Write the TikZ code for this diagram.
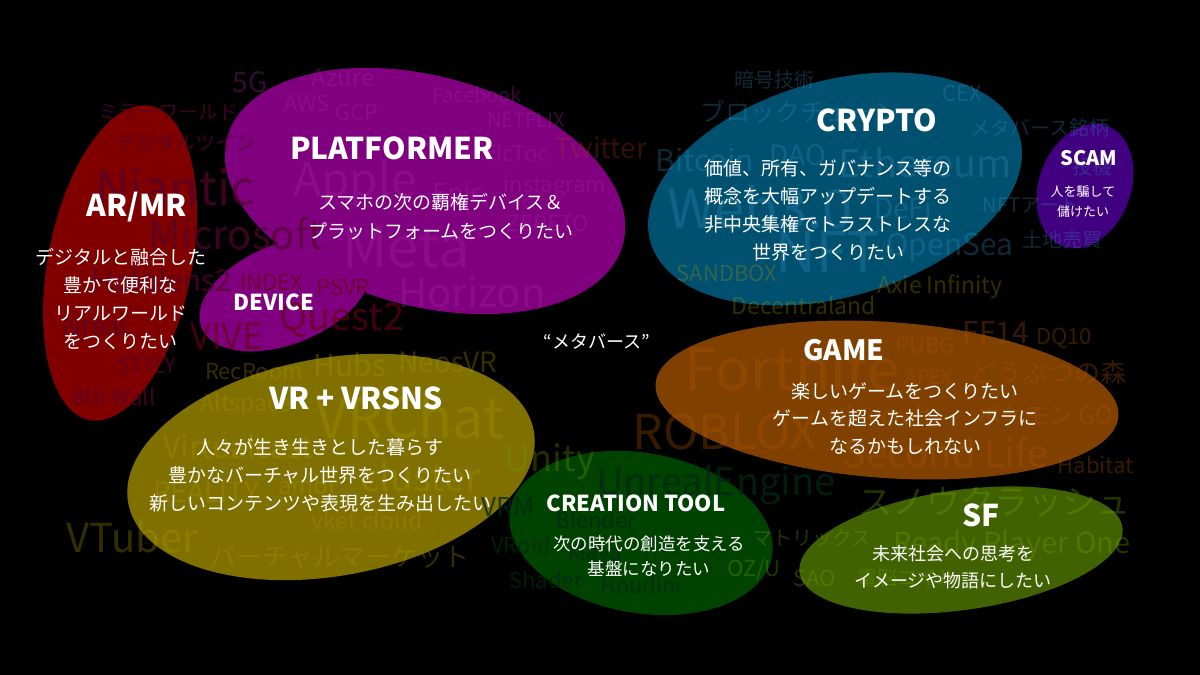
\documentclass[tikz,border=0pt]{standalone}
\usepackage{fontspec}
\setmainfont{Noto Sans CJK JP}
\newcommand{\wsize}[1]{\fontsize{#1}{#1}\selectfont}
\definecolor{armrcol}{RGB}{128,0,0}
\definecolor{platcol}{RGB}{128,0,128}
\definecolor{cryptocol}{RGB}{0,80,112}
\definecolor{scamcol}{RGB}{64,0,128}
\definecolor{vrcol}{RGB}{128,112,0}
\definecolor{gamecol}{RGB}{128,64,0}
\definecolor{toolcol}{RGB}{0,66,0}
\definecolor{sfcol}{RGB}{64,98,0}
\definecolor{armrword}{RGB}{85,5,45}
\definecolor{platword}{RGB}{170,40,170}
\definecolor{devword}{RGB}{100,0,20}
\definecolor{twword}{RGB}{170,50,30}
\definecolor{cryptoword}{RGB}{60,150,200}
\definecolor{vrword}{RGB}{170,155,0}
\definecolor{unityword}{RGB}{110,160,0}
\definecolor{toolword}{RGB}{0,40,20}
\definecolor{gameword}{RGB}{180,90,0}
\definecolor{sfword}{RGB}{120,170,0}

\begin{document}
\begin{tikzpicture}[x=1pt,y=-1pt,
    wd/.style={inner sep=0pt, text opacity=0.3},
    war/.style={wd, text=armrword, text opacity=0.7},
    wpf/.style={wd, text=platword},
    wdev/.style={wd, text=devword, text opacity=0.65},
    wtw/.style={wd, text=twword},
    wcr/.style={wd, text=cryptoword, text opacity=0.28},
    wvr/.style={wd, text=vrword},
    wun/.style={wd, text=unityword},
    wct/.style={wd, text=toolword, text opacity=0.75},
    wgm/.style={wd, text=gameword},
    wsf/.style={wd, text=sfword},
    title/.style={text=white, inner sep=0pt, font=\bfseries\wsize{#1}},
    desc/.style={text=white, inner sep=0pt, align=center, font=\fontsize{19}{28}\selectfont}]
    \useasboundingbox (0,0) rectangle (1200,675);
    \fill[black] (0,0) rectangle (1200,675);

    \fill[armrcol, rotate around={-11:(120,263)}] (120,263) ellipse [x radius=72, y radius=160];
    \fill[platcol, rotate around={-15:(425,191)}] (425,191) ellipse [x radius=205, y radius=115];
    \fill[platcol, rotate around={22:(285,294)}] (285,294) ellipse [x radius=90, y radius=50];
    \fill[cryptocol, rotate around={16:(835,189)}] (835,189) ellipse [x radius=192, y radius=108];
    \fill[scamcol, rotate around={-20:(1085,186)}] (1085,186) ellipse [x radius=46, y radius=64];
    \fill[vrcol, rotate around={10:(331,467)}] (331,467) ellipse [x radius=206, y radius=109];
    \fill[gamecol, rotate around={-4:(887,400)}] (887,400) ellipse [x radius=232, y radius=78];
    \fill[toolcol, rotate around={-10:(641,533)}] (641,533) ellipse [x radius=133, y radius=80];
    \fill[sfcol, rotate around={8:(961,550)}] (961,550) ellipse [x radius=163, y radius=60];

    \node[wpf, font=\wsize{28}] (fiveg) at (250,82) {5G};
    \node[wpf, font=\wsize{24}] (azure) at (343,78) {Azure};
    \node[wpf, font=\wsize{22}] (aws) at (307,103) {AWS};
    \node[wpf, font=\wsize{22}] (gcp) at (357,112) {GCP};
    \node[wpf, font=\wsize{20}] (facebook) at (477,95) {Facebook};
    \node[wpf, font=\wsize{20}] (netflix) at (526,120) {NETFLIX};
    \node[wpf, font=\wsize{22}] (tictoc) at (516,153) {TicToc};
    \node[wpf, font=\wsize{22}] (insta) at (555,187) {instagram};
    \node[wpf, font=\wsize{22}] (zepeto) at (548,223) {ZEPETO};
    \node[wpf, font=\wsize{26}] (epic) at (458,195) {Epic};
    \node[wpf, font=\wsize{46}] (apple) at (355,183) {Apple};
    \node[wpf, font=\wsize{56}] (meta) at (406,247) {Meta};
    \node[wpf, font=\wsize{40}] (horizon) at (472,292) {Horizon};
    \node[wtw, font=\wsize{28}] (twitter) at (601,148) {Twitter};

    \node[war, font=\wsize{20}] (mirror) at (168,112) {ミラーワールド};
    \node[war, font=\wsize{20}] (twin) at (186,143) {デジタルツイン};
    \node[war, font=\wsize{48}] (niantic) at (175,187) {Niantic};
    \node[war, font=\wsize{40}] (msoft) at (236,234) {Microsoft};
    \node[war, font=\wsize{30}] (hololens) at (162,280) {Hololens2};
    \node[war, font=\wsize{26}] (nreal) at (95,325) {Nreal};
    \node[war, font=\wsize{22}] (styly) at (147,365) {STYLY};
    \node[war, font=\wsize{22}] (eighth) at (114,397) {8th Wall};

    \node[wdev, font=\wsize{22}] (index) at (272,282) {INDEX};
    \node[wdev, font=\wsize{22}] (psvr) at (343,287) {PSVR};
    \node[wdev, font=\wsize{38}] (quest) at (342,320) {Quest2};
    \node[wdev, font=\wsize{36}] (vive) at (227,336) {VIVE};

    \node[wcr, font=\wsize{20}] (angou) at (774,80) {暗号技術};
    \node[wcr, font=\wsize{25}] (chain) at (800,112) {ブロックチェーン};
    \node[wcr, font=\wsize{30}] (bitcoin) at (705,160) {Bitcoin};
    \node[wcr, font=\wsize{28}] (dao) at (798,155) {DAO};
    \node[wcr, font=\wsize{38}] (eth) at (925,163) {Ethereum};
    \node[wcr, font=\wsize{54}] (web3) at (760,207) {Web3.0};
    \node[wcr, font=\wsize{28}] (defi) at (903,208) {DeFi};
    \node[wcr, font=\wsize{56}] (nft) at (828,252) {NFT};
    \node[wcr, font=\wsize{30}] (opensea) at (950,248) {OpenSea};
    \node[wcr, font=\wsize{22}] (cex) at (962,93) {CEX};
    \node[wcr, font=\wsize{20}] (meigara) at (1040,128) {メタバース銘柄};
    \node[wcr, font=\wsize{20}] (touki) at (1092,167) {投機};
    \node[wcr, font=\wsize{20}] (nftart) at (1031,205) {NFTアート};
    \node[wcr, font=\wsize{20}] (tochi) at (1062,240) {土地売買};

    \node[wvr, font=\wsize{22}] (sandbox) at (727,273) {SANDBOX};
    \node[wvr, font=\wsize{23}] (axie) at (940,287) {Axie Infinity};
    \node[wvr, font=\wsize{23}] (decentra) at (804,305) {Decentraland};
    \node[wvr, font=\wsize{22}] (recroom) at (254,372) {RecRoom};
    \node[wvr, font=\wsize{30}] (hubs) at (350,365) {Hubs};
    \node[wvr, font=\wsize{28}] (neos) at (448,362) {NeosVR};
    \node[wvr, font=\wsize{23}] (altspace) at (246,405) {Altspace};
    \node[wvr, font=\wsize{56}] (vrchat) at (410,417) {VRChat};
    \node[wvr, font=\wsize{30}] (vcast) at (238,447) {Virtualcast};
    \node[wvr, font=\wsize{38}] (cluster) at (420,477) {cluster};
    \node[wvr, font=\wsize{28}] (reality) at (206,492) {REALITY};
    \node[wvr, font=\wsize{24}] (ambr) at (308,485) {ambr};
    \node[wvr, font=\wsize{23}] (vket) at (367,520) {vket cloud};
    \node[wvr, font=\wsize{26}] (vmarket) at (340,557) {バーチャルマーケット};
    \node[wvr, font=\wsize{40}] (vtuber) at (132,537) {VTuber};
    \node[wun, font=\wsize{36}] (unity) at (550,462) {Unity};

    \node[wct, font=\wsize{38}] (unreal) at (716,485) {UnrealEngine};
    \node[wct, font=\wsize{26}] (vrm) at (508,507) {VRM};
    \node[wct, font=\wsize{22}] (blender) at (596,520) {Blender};
    \node[wct, font=\wsize{22}] (vroid) at (521,545) {VRoid};
    \node[wct, font=\wsize{22}] (maya) at (595,555) {Maya};
    \node[wct, font=\wsize{22}] (shader) at (546,580) {Shader};
    \node[wct, font=\wsize{22}] (houdini) at (641,585) {Houdini};

    \node[wgm, font=\wsize{58}] (fortnite) at (792,368) {Fortnite};
    \node[wgm, font=\wsize{48}] (roblox) at (725,432) {ROBLOX};
    \node[wgm, font=\wsize{22}] (pubg) at (925,345) {PUBG};
    \node[wgm, font=\wsize{30}] (ff) at (996,332) {FF14};
    \node[wgm, font=\wsize{22}] (dq) at (1064,338) {DQ10};
    \node[wgm, font=\wsize{26}] (mori) at (1048,373) {どうぶつの森};
    \node[wgm, font=\wsize{20}] (apex) at (929,377) {APEX};
    \node[wgm, font=\wsize{24}] (minecraft) at (880,415) {Minecraft};
    \node[wgm, font=\wsize{24}] (pokemon) at (1045,415) {ポケモン GO};
    \node[wgm, font=\wsize{38}] (secondlife) at (946,452) {Second Life};
    \node[wgm, font=\wsize{22}] (habitat) at (1096,465) {Habitat};

    \node[wsf, font=\wsize{20}] (matrix) at (812,538) {マトリックス};
    \node[wsf, font=\wsize{22}] (ozu) at (754,570) {OZ/U};
    \node[wsf, font=\wsize{22}] (sao) at (815,578) {SAO};
    \node[wsf, font=\wsize{20}] (coil) at (907,578) {電脳コイル};
    \node[wsf, font=\wsize{34}] (snow) at (994,502) {スノウクラッシュ};
    \node[wsf, font=\wsize{29}] (rpo) at (1012,545) {Ready Player One};

    \node[title=30] (armr) at (137,207) {AR/MR};
    \node[desc] (armrtext) at (121,299) {デジタルと融合した\\豊かで便利な\\リアルワールド\\をつくりたい};
    \node[title=30] (plat) at (392,148) {PLATFORMER};
    \node[desc, font=\fontsize{19}{29}\selectfont] (plattext) at (441,217) {スマホの次の覇権デバイス＆\\プラットフォームをつくりたい};
    \node[title=22] (device) at (274,302) {DEVICE};
    \node[title=30] (crypto) at (877,120) {CRYPTO};
    \node[desc] (cryptotext) at (828,210) {価値、所有、ガバナンス等の\\概念を大幅アップデートする\\非中央集権でトラストレスな\\世界をつくりたい};
    \node[title=20] (scam) at (1089,158) {SCAM};
    \node[desc, font=\fontsize{13}{20}\selectfont] (scamtext) at (1083,202) {人を騙して\\儲けたい};
    \node[text=white, font=\wsize{18}] (metaverse) at (597,342) {“メタバース”};
    \node[title=30] (vr) at (356,398) {VR + VRSNS};
    \node[desc] (vrtext) at (320,475) {人々が生き生きとした暮らす\\豊かなバーチャル世界をつくりたい\\新しいコンテンツや表現を生み出したい};
    \node[title=28] (game) at (844,350) {GAME};
    \node[desc, font=\fontsize{19}{27.5}\selectfont] (gametext) at (905,418) {楽しいゲームをつくりたい\\ゲームを超えた社会インフラに\\なるかもしれない};
    \node[title=22] (tool) at (636,503) {CREATION TOOL};
    \node[desc, font=\fontsize{17.5}{25}\selectfont] (tooltext) at (649,556) {次の時代の創造を支える\\基盤になりたい};
    \node[title=30] (sf) at (981,515) {SF};
    \node[desc, font=\fontsize{18}{27}\selectfont] (sftext) at (953,567) {未来社会への思考を\\イメージや物語にしたい};
\end{tikzpicture}
\end{document}
